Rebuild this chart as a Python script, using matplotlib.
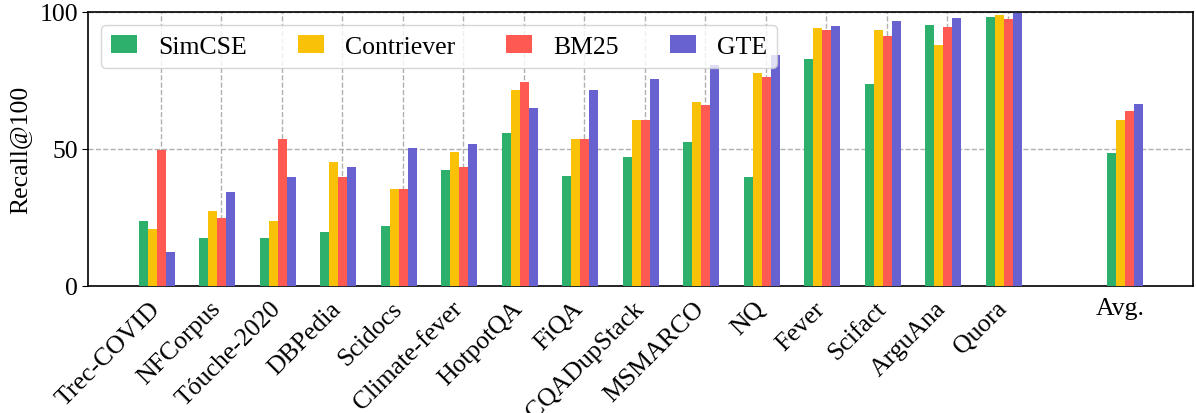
import numpy as np
import matplotlib
matplotlib.use("Agg")
import matplotlib.pyplot as plt

plt.rcParams["font.family"] = ["Liberation Serif", "DejaVu Serif"]

datasets = ["Trec-COVID", "NFCorpus", "Tóuche-2020", "DBPedia", "Scidocs",
            "Climate-fever", "HotpotQA", "FiQA", "CQADupStack", "MSMARCO",
            "NQ", "Fever", "Scifact", "ArguAna", "Quora"]
models = ["SimCSE", "Contriever", "BM25", "GTE"]

simcse = [23.8, 17.6, 17.6, 19.8, 22.0, 42.4, 56.0, 40.2, 47.2, 52.7,
          39.9, 82.7, 73.9, 95.1, 98.1]
contriever = [20.9, 27.4, 23.8, 45.4, 35.5, 49.0, 71.4, 53.8, 60.4, 67.3,
              77.6, 94.0, 93.3, 87.8, 98.8]
bm25 = [49.8, 24.9, 53.8, 39.9, 35.5, 43.5, 74.3, 53.8, 60.7, 65.9,
        76.1, 93.3, 91.1, 94.4, 97.3]
gte = [12.4, 34.4, 39.9, 43.5, 50.5, 52.0, 65.1, 71.4, 75.4, 80.5,
       84.2, 94.8, 96.6, 97.7, 99.5]
avg = [48.7, 60.4, 63.7, 66.6]

colors = ["#2db06c", "#f9c208", "#ff5a52", "#6861d0"]

fig = plt.figure(figsize=(11.96, 4.14), dpi=100)
ax = fig.add_axes([0.0736, 0.3068, 0.9239, 0.6618])

x = np.arange(len(datasets))
w = 0.15
series = [simcse, contriever, bm25, gte]
for k, (name, vals) in enumerate(zip(models, series)):
    pos = np.append(x, 16) + (k - 1.5) * w
    ax.bar(pos, vals + [avg[k]], width=w, color=colors[k], label=name, zorder=3)

# grid lines (minor ticks) and labels (major ticks) sit a bit apart
grid_pos = list(x + 0.066) + [16 - 0.075]
label_pos = list(x - 0.134) + [16 - 0.075]
ax.set_xticks(grid_pos, minor=True)
ax.set_xticks(label_pos)
ax.set_xticklabels(datasets + ["Avg."], fontsize=18.5)
for lab in ax.get_xticklabels()[:-1]:
    lab.set_rotation(45)
    lab.set_ha("right")
    lab.set_rotation_mode("anchor")
ax.tick_params(axis="x", which="both", length=0, pad=8)

ax.set_xlim(-1.136, 17.13)
ax.set_ylim(0, 100)
ax.set_yticks([0, 50, 100])
ax.tick_params(axis="y", labelsize=18.5, length=4, pad=3)
ax.set_ylabel("Recall@100", fontsize=18.5, labelpad=6)

grid_kw = dict(linestyle="--", color="#b0b0b0", linewidth=1.0, zorder=0)
ax.grid(True, axis="x", which="minor", **grid_kw)
ax.grid(True, axis="y", which="major", **grid_kw)
ax.set_axisbelow(True)
for s in ax.spines.values():
    s.set_linewidth(1.2)

ax.legend(loc="upper left", ncol=4, fontsize=18.5, frameon=True,
          columnspacing=2.0, handlelength=1.0, handletextpad=0.82)

fig.savefig("out.png", dpi=100)
